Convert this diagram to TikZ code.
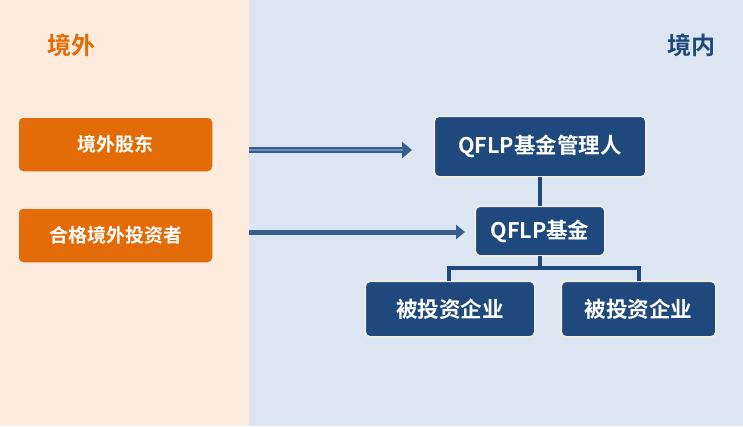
\documentclass[tikz,border=0pt]{standalone}
\usepackage{fontspec}
\newfontfamily\cjk{Noto Sans CJK SC}[BoldFont={Noto Sans CJK SC Bold}]
\usetikzlibrary{arrows.meta}
\definecolor{peach}{HTML}{FDEBDD}
\definecolor{paleblue}{HTML}{DCE6F2}
\definecolor{orangebox}{HTML}{E36C09}
\definecolor{navy}{HTML}{1F497D}
\definecolor{arrowblue}{HTML}{385D8A}
\definecolor{arrowlight}{HTML}{6F8DB6}
\definecolor{rim}{HTML}{EEECE1}
\tikzset{
  obox/.style={draw=rim, line width=1.5pt, fill=orangebox, rounded corners=5pt},
  bbox/.style={draw=rim, line width=2pt, fill=navy, rounded corners=5pt},
  otext/.style={text=white, font=\cjk\bfseries\fontsize{19}{22}\selectfont},
  btext/.style={text=white, font=\cjk\bfseries\fontsize{21.5}{24}\selectfont},
  ctext/.style={text=white, font=\cjk\bfseries\fontsize{21.6}{24}\selectfont},
  title/.style={font=\cjk\bfseries\fontsize{24}{27}\selectfont},
  link/.style={draw=navy, line width=3.2pt},
  arrowone/.style={draw=arrowblue, line width=6.5pt, -{Triangle[length=10pt,width=16pt]}},
  arrowtwo/.style={draw=arrowblue, line width=5pt, -{Triangle[length=9pt,width=14pt]}},
}
\begin{document}
\begin{tikzpicture}[x=1pt,y=-1pt]
\useasboundingbox (0,0) rectangle (743,426);
\fill[peach] (0,0) rectangle (249,426);
\fill[paleblue] (249,0) rectangle (743,426);
\node[title, text=orangebox] (tout) at (71,45) {境外};
\node[title, text=navy] (tin) at (691,45) {境内};
% left boxes
\path[obox] (18,117) rectangle (213,172);
\node[otext] (s1) at (115.5,144.5) {境外股东};
\path[obox] (18,208) rectangle (213,263);
\node[otext] (s2) at (115.5,235.5) {合格境外投资者};
% right boxes
\path[bbox] (434,116) rectangle (646,177);
\node[btext] (mgr) at (540,146.5) {QFLP基金管理人};
\path[bbox] (475,206) rectangle (605,256);
\node[btext] (fund) at (540,231) {QFLP基金};
\path[bbox] (365,281) rectangle (535,337);
\node[ctext] (c1) at (450,309) {被投资企业};
\path[bbox] (561,281) rectangle (716,337);
\node[ctext] (c2) at (638.5,309) {被投资企业};
% coordinates
\coordinate (a1s) at (249,150);
\coordinate (a1e) at (412,150);
\coordinate (a2s) at (249,232);
\coordinate (a2e) at (465,232);
\coordinate (mb) at (540,177);
\coordinate (ft) at (540,206);
\coordinate (fb) at (540,256);
\coordinate (jn) at (540,268);
\coordinate (c1t) at (449,281);
\coordinate (c2t) at (639,281);
% arrows
\draw[arrowone] (a1s) -- (a1e);
\draw[draw=arrowlight, line width=1.4pt] (a1s) -- ([xshift=-9pt]a1e);
\draw[arrowtwo] (a2s) -- (a2e);
% tree links
\draw[link] (mb) -- (ft);
\draw[link] (fb) -- (jn);
\draw[link] (c1t) |- (jn) -| (c2t);
\end{tikzpicture}
\end{document}
